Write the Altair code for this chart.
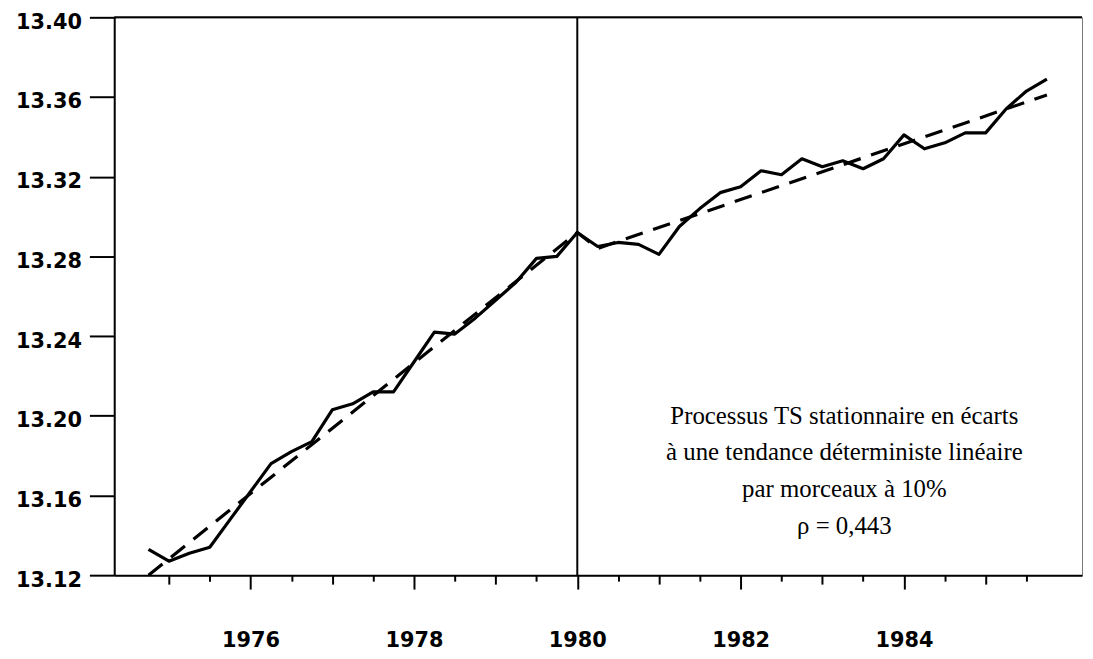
import altair as alt
import pandas as pd

# ---- data ----
quarters = [1974.75, 1975.00, 1975.25, 1975.50, 1975.75, 1976.00, 1976.25, 1976.50, 1976.75,
            1977.00, 1977.25, 1977.50, 1977.75, 1978.00, 1978.25, 1978.50, 1978.75,
            1979.00, 1979.25, 1979.50, 1979.75, 1980.00, 1980.25, 1980.50, 1980.75,
            1981.00, 1981.25, 1981.50, 1981.75, 1982.00, 1982.25, 1982.50, 1982.75,
            1983.00, 1983.25, 1983.50, 1983.75, 1984.00, 1984.25, 1984.50, 1984.75,
            1985.00, 1985.25, 1985.50, 1985.75]
series = [13.133, 13.127, 13.131, 13.134, 13.148, 13.162, 13.176, 13.182, 13.187,
          13.203, 13.206, 13.212, 13.212, 13.227, 13.242, 13.241, 13.249,
          13.258, 13.267, 13.279, 13.280, 13.292, 13.285, 13.287, 13.286,
          13.281, 13.295, 13.304, 13.312, 13.315, 13.323, 13.321, 13.329,
          13.325, 13.328, 13.324, 13.329, 13.341, 13.334, 13.337, 13.342,
          13.342, 13.354, 13.363, 13.369]

trend_t = [1974.75, 1980.00, 1980.25, 1985.75]
trend_v = [13.120, 13.292, 13.284, 13.361]

x_ticks = [1975.0, 1975.5, 1976.0, 1976.5, 1977.0, 1977.5, 1978.0, 1978.5, 1979.0, 1979.5,
           1980.0, 1980.5, 1981.0, 1981.5, 1982.0, 1982.5, 1983.0, 1983.5, 1984.0, 1984.5,
           1985.0, 1985.5]
y_ticks = [13.12, 13.16, 13.20, 13.24, 13.28, 13.32, 13.36, 13.40]

break_year = 1980
note_lines = ["Processus TS stationnaire en écarts",
              "à une tendance déterministe linéaire",
              "par morceaux à 10%",
              "ρ = 0,443"]
note_x = 1983.27
note_y = 13.196

df = pd.DataFrame({"t": quarters, "v": series})
tdf = pd.DataFrame({"t": trend_t, "v": trend_v})

LABEL_FONT = "DejaVu Sans"

xscale = alt.Scale(domain=[1974.33, 1986.18], nice=False, zero=False)
yscale = alt.Scale(domain=[13.12, 13.40], nice=False, zero=False)

x_axis = alt.Axis(
    values=x_ticks, title=None, grid=False,
    domainColor="black", domainWidth=2,
    tickColor="black", tickWidth=2,
    tickSize={"condition": [{"test": "datum.value % 2 == 0", "value": 14},
                            {"test": "datum.value % 1 == 0", "value": 9}],
              "value": 6},
    labelExpr="datum.value % 2 == 0 ? format(datum.value, 'd') : ''",
    labelFont=LABEL_FONT, labelFontSize=21, labelFontWeight="bold",
    labelColor="black", labelPadding=58, labelBaseline="alphabetic",
    labelOverlap=False, labelFlush=False,
)
y_axis = alt.Axis(
    values=y_ticks, format=".2f", title=None, grid=False,
    domainColor="black", domainWidth=2,
    tickColor="black", tickWidth=2, tickSize=25,
    labelFont=LABEL_FONT, labelFontSize=21, labelFontWeight="bold",
    labelColor="black", labelPadding=8, labelOffset=5,
    labelOverlap=False, labelFlush=False,
)


def X(**kw):
    return alt.X(scale=xscale, axis=x_axis, **kw)


def Y(**kw):
    return alt.Y(scale=yscale, axis=y_axis, **kw)


solid = alt.Chart(df).mark_line(color="black", strokeWidth=3.2, strokeJoin="round").encode(
    x=X(field="t", type="quantitative"),
    y=Y(field="v", type="quantitative"),
)

dashed = alt.Chart(tdf).mark_line(color="black", strokeWidth=3.2, strokeDash=[18, 11]).encode(
    x=X(field="t", type="quantitative"),
    y=Y(field="v", type="quantitative"),
)

vrule = alt.Chart().mark_rule(color="black", strokeWidth=2).encode(
    x=X(datum=break_year),
)

toprule = alt.Chart().mark_rule(color="black", strokeWidth=2).encode(
    y=Y(datum=y_ticks[-1]),
)

note = alt.Chart().mark_text(
    text=note_lines, font="Liberation Serif", fontSize=25, color="black",
    align="center", baseline="alphabetic", lineHeight=37,
).encode(
    x=X(datum=note_x),
    y=Y(datum=note_y),
)

chart = alt.layer(solid, dashed, vrule, toprule, note).properties(
    width=975, height=562,
    padding={"left": 107, "top": 7, "right": 3, "bottom": 74},
    autosize="none",
    background="white",
).configure_view(stroke="#777", strokeWidth=1)

chart.save("out.html", embed_options={"renderer": "svg", "actions": False})
